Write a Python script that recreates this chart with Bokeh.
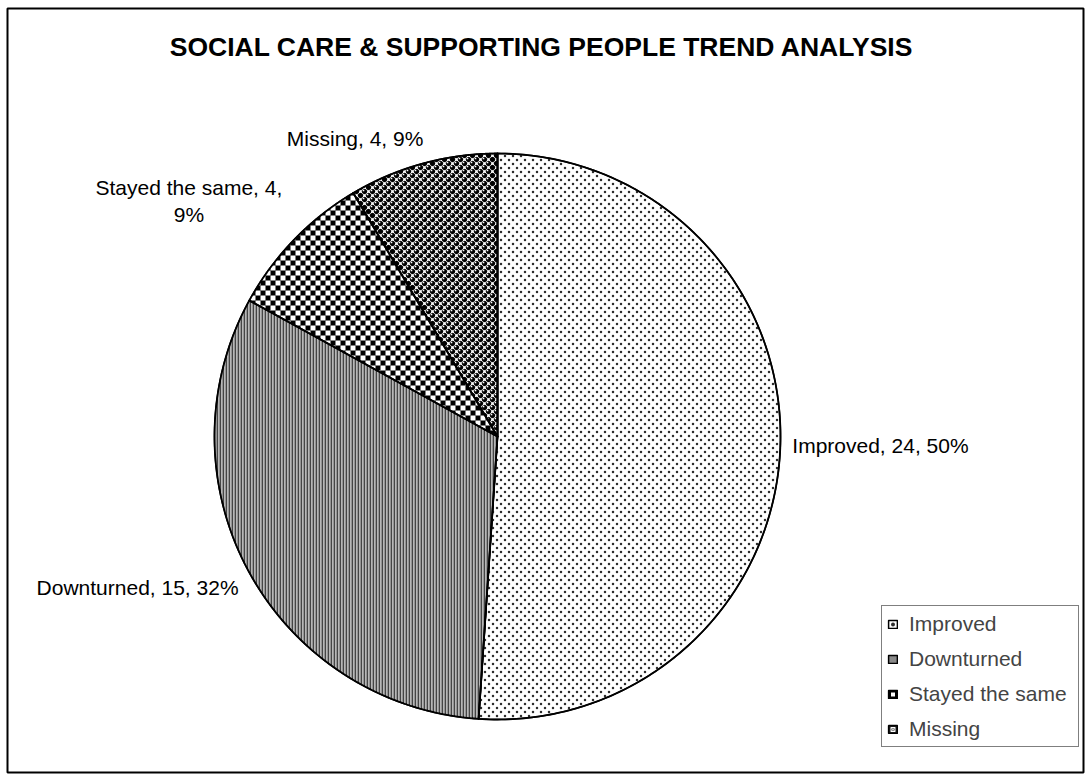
import numpy as np
from bokeh.plotting import figure
from bokeh.models import Range1d, Label, Legend, LegendItem, ColumnDataSource
from bokeh.embed import file_html
from bokeh.resources import INLINE
from bokeh.core.properties import value

# ---- data ----
title_text = "SOCIAL CARE & SUPPORTING PEOPLE  TREND ANALYSIS"
categories = ["Improved", "Downturned", "Stayed the same", "Missing"]
counts = [24, 15, 4, 4]
pct_labels = ["50%", "32%", "9%", "9%"]

FONT = "Liberation Sans"

# ---- figure: data units map 1:1 to page pixels ----
p = figure(width=1091, height=780, output_backend="svg", toolbar_location=None, tools="",
           x_range=Range1d(7, 1083), y_range=Range1d(772, 8),
           x_axis_location=None, y_axis_location=None,
           min_border_left=7, min_border_right=8, min_border_top=8, min_border_bottom=8)
p.grid.visible = False
p.outline_line_color = "black"
p.outline_line_width = 2
p.background_fill_color = "white"
p.border_fill_color = "white"

cx, cy, r = 497.0, 436.0, 283.0
total = float(sum(counts))
fr = np.array(counts) / total
ends = np.cumsum(fr) * 2 * np.pi
starts = ends - fr * 2 * np.pi
mids = (starts + ends) / 2


def wedge_poly(a0, a1, n):
    th = np.linspace(a0, a1, n)
    xs = np.concatenate([[cx], cx + r * np.sin(th)])
    ys = np.concatenate([[cy], cy - r * np.cos(th)])
    return xs, ys


def inside(px, py, a0, a1, rad=r):
    dxp = px - cx
    dyp = py - cy
    d = np.hypot(dxp, dyp)
    ang = np.mod(np.arctan2(dxp, -dyp), 2 * np.pi)
    return (d <= rad) & (ang >= a0) & (ang <= a1)


def clip_convex(subj, cpx, cpy):
    """Sutherland-Hodgman clip of polygon subj (list of (x,y)) by convex polygon."""
    gx, gy = cpx.mean(), cpy.mean()
    out = list(subj)
    n = len(cpx)
    for i in range(n):
        ax_, ay_ = cpx[i], cpy[i]
        bx_, by_ = cpx[(i + 1) % n], cpy[(i + 1) % n]
        if abs(bx_ - ax_) < 1e-9 and abs(by_ - ay_) < 1e-9:
            continue
        sref = (bx_ - ax_) * (gy - ay_) - (by_ - ay_) * (gx - ax_)

        def side(pt):
            return ((bx_ - ax_) * (pt[1] - ay_) - (by_ - ay_) * (pt[0] - ax_)) * sref

        inp = out
        out = []
        if not inp:
            break
        prev = inp[-1]
        for cur in inp:
            sc, sp = side(cur), side(prev)
            if sc >= 0:
                if sp < 0:
                    t = sp / (sp - sc)
                    out.append((prev[0] + t * (cur[0] - prev[0]), prev[1] + t * (cur[1] - prev[1])))
                out.append(cur)
            elif sp >= 0:
                t = sp / (sp - sc)
                out.append((prev[0] + t * (cur[0] - prev[0]), prev[1] + t * (cur[1] - prev[1])))
            prev = cur
    return out


def clipped_shapes(shapes, a0, a1):
    cpx, cpy = wedge_poly(a0, a1, 90)
    xs_l, ys_l = [], []
    for shp in shapes:
        arr = np.array(shp)
        ins = inside(arr[:, 0], arr[:, 1], a0, a1)
        if ins.all():
            poly = shp
        else:
            poly = clip_convex(shp, cpx, cpy)
            if len(poly) < 3:
                continue
        xs_l.append([q[0] for q in poly])
        ys_l.append([q[1] for q in poly])
    return xs_l, ys_l


fills = ["white", "#8a8a8a", "black", "white"]
fill_renderers = []
for i, cat in enumerate(categories):
    xs, ys = wedge_poly(starts[i], ends[i], 240)
    fill_renderers.append(p.patch(xs, ys, fill_color=fills[i], line_color="black",
                                  line_width=1.5, line_join="round"))

x0b, x1b, y0b, y1b = cx - r - 2, cx + r + 2, cy - r - 2, cy + r + 2

# Improved: staggered grey dots
gx_, gy_ = np.meshgrid(np.arange(np.floor(x0b), x1b, 8.0), np.arange(np.floor(y0b), y1b, 4.0))
gx_ = gx_ + np.where((np.round(gy_ / 4.0) % 2) == 1, 4.0, 0.0) + 0.5
gy_ = gy_ + 0.5
m = inside(gx_, gy_, starts[0] + 0.004, ends[0] - 0.004, r - 1.5)
dots = p.scatter(gx_[m], gy_[m], marker="circle", size=2.5, fill_color="#2e2e2e", line_color=None)

# Downturned: vertical stripes (black / grey / light)
dxs, dys = wedge_poly(starts[1], ends[1], 240)
ex1, ey1 = dxs, dys
ex2, ey2 = np.roll(dxs, -1), np.roll(dys, -1)
seg = {"k": ([], [], [], []), "w": ([], [], [], [])}
for k in range(int(np.floor(dxs.min())), int(np.ceil(dxs.max())) + 1):
    kind = {0: "k", 2: "w"}.get(k % 3)
    if kind is None:
        continue
    xv = k + 0.5
    mm = ((ex1 <= xv) & (ex2 > xv)) | ((ex2 <= xv) & (ex1 > xv))
    if mm.sum() < 2:
        continue
    t = (xv - ex1[mm]) / (ex2[mm] - ex1[mm])
    yy = ey1[mm] + t * (ey2[mm] - ey1[mm])
    s = seg[kind]
    s[0].append(xv); s[1].append(yy.min()); s[2].append(xv); s[3].append(yy.max())
p.segment(*seg["k"], line_color="black", line_width=1)
p.segment(*seg["w"], line_color="#e4e4e4", line_width=1)

# Stayed the same: checkerboard (white squares over black)
sq = 5.0
squares = []
for ix in range(int(np.floor(x0b / sq)), int(np.ceil(x1b / sq))):
    for iy in range(int(np.floor(y0b / sq)), int(np.ceil(y1b / sq))):
        if (ix + iy) % 2 == 0:
            continue
        xa, ya = ix * sq, iy * sq
        corners = np.array([[xa, ya], [xa + sq, ya], [xa + sq, ya + sq], [xa, ya + sq]])
        cxm, cym = xa + sq / 2, ya + sq / 2
        if not inside(np.array([cxm]), np.array([cym]), starts[2] - 0.06, ends[2] + 0.06, r + 8)[0]:
            continue
        squares.append([tuple(c) for c in corners])
sxl, syl = clipped_shapes(squares, starts[2], ends[2])
p.patches(sxl, syl, fill_color="white", line_color=None)

# Missing: black spheres with highlight on white
balls = []
hx, hy = [], []
rb = 2.7
tt = np.linspace(0, 2 * np.pi, 13)[:-1]
for jy, yv in enumerate(np.arange(np.floor(y0b), y1b, 4.0)):
    off = 4.0 if jy % 2 else 0.0
    for xv in np.arange(np.floor(x0b) + off, x1b, 8.0):
        if not inside(np.array([xv]), np.array([yv]), starts[3] - 0.05, ends[3] + 0.05, r + 4)[0]:
            continue
        balls.append([(xv + rb * np.cos(a), yv + rb * np.sin(a)) for a in tt])
        if inside(np.array([xv]), np.array([yv]), starts[3] + 0.02, ends[3] - 0.02, r - 3)[0]:
            hx.append(xv - 1.0); hy.append(yv - 1.0)
bxl, byl = clipped_shapes(balls, starts[3], ends[3])
p.patches(bxl, byl, fill_color="black", line_color=None)
p.scatter(hx, hy, marker="square", size=1.6, fill_color="white", line_color=None)

# outlines on top
for i in range(len(categories)):
    xs, ys = wedge_poly(starts[i], ends[i], 240)
    p.patch(xs, ys, fill_alpha=0, line_color="black", line_width=1.8, line_join="round")

# legend-only glyphs (hidden renderers, drawn only as legend swatches)
wx = cx + 0.6 * r * np.sin(mids)
wy = cy - 0.6 * r * np.cos(mids)
xs3, ys3 = wedge_poly(starts[3], ends[3], 60)
leg_stay_mark = p.scatter([wx[2]], [wy[2]], marker="square", size=4.5, fill_color="white",
                          line_color=None, visible=False)
leg_miss_fill = p.patch(xs3, ys3, fill_color="#1e1e1e", line_color="black", line_width=1.5,
                        visible=False)
leg_miss_mark = p.scatter([wx[3]], [wy[3]], marker="square_x", size=6, fill_color=None,
                          line_color="white", line_width=1, visible=False)

# ---- data labels ----
label_texts = [f"{c}, {n}, {pc}" for c, n, pc in zip(categories, counts, pct_labels)]
label_texts[2] = f"{categories[2]}, {counts[2]},\n{pct_labels[2]}"
lr = r + 10
ax = cx + lr * np.sin(mids)
ay = cy - lr * np.cos(mids)
dx = [2, -2, -98, -65]
dy = [-1, 10, -32, -15]
aligns = ["left", "right", "center", "center"]
src = ColumnDataSource(dict(x=ax + np.array(dx), y=ay + np.array(dy), t=label_texts, a=aligns))
p.text(x="x", y="y", text="t", source=src, text_align="a", text_baseline="middle",
       text_font=value(FONT), text_font_size="21px", text_color="black",
       text_line_height=1.15)

# ---- title ----
p.add_layout(Label(x=545, y=46, text=title_text, text_align="center", text_baseline="middle",
                   text_font=FONT, text_font_style="bold", text_font_size="26.5px",
                   text_color="black"))

# ---- legend ----
items = [
    LegendItem(label=categories[0], renderers=[fill_renderers[0], dots]),
    LegendItem(label=categories[1], renderers=[fill_renderers[1]]),
    LegendItem(label=categories[2], renderers=[fill_renderers[2], leg_stay_mark]),
    LegendItem(label=categories[3], renderers=[leg_miss_fill, leg_miss_mark]),
]
leg = Legend(items=items, location=(874, 25), orientation="vertical",
             border_line_color="black", border_line_width=1, background_fill_color="white",
             background_fill_alpha=1, label_text_font=FONT, label_text_font_size="21px",
             glyph_width=11, glyph_height=10, label_standoff=11, padding=5, spacing=10,
             label_height=25, label_width=164, margin=0)
p.add_layout(leg, "center")

open("out.html", "w").write(file_html(p, INLINE))
